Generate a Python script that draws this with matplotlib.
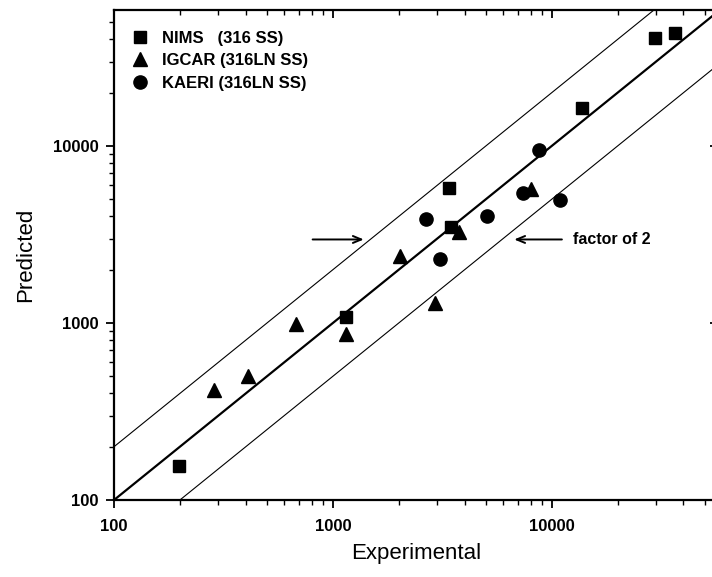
import numpy as np
import matplotlib
matplotlib.use("Agg")
import matplotlib.pyplot as plt

plt.rcParams['font.family'] = ['Liberation Sans', 'DejaVu Sans']

# Data (Experimental, Predicted)
nims_exp = [198, 1146, 3398, 3484, 13810, 29530, 36450]
nims_pred = [156, 1081, 5810, 3473, 16330, 40580, 43310]

igcar_exp = [287, 410, 678, 1143, 2922, 2023, 3773, 8075]
igcar_pred = [418, 504, 984, 866, 1302, 2391, 3280, 5690]

kaeri_exp = [2660, 5067, 3103, 7393, 10880, 8727]
kaeri_pred = [3852, 4023, 2299, 5405, 4954, 9487]

labels = ["NIMS   (316 SS)", "IGCAR (316LN SS)", "KAERI (316LN SS)"]
factor = 2
xlim = (100, 57500)
ylim = (100, 58600)
major_ticks = [100, 1000, 10000]

fig = plt.figure(figsize=(7.12, 5.77), dpi=100)
ax = fig.add_axes([0.1601, 0.1334, 0.8483, 0.8492])

xs = np.array(xlim)
ax.plot(xs, xs, color='black', lw=1.6, zorder=2)
ax.plot(xs, xs * factor, color='black', lw=0.8, zorder=2)
ax.plot(xs, xs / factor, color='black', lw=0.8, zorder=2)

ax.plot(nims_exp, nims_pred, 's', color='black', ms=8.5, ls='none', label=labels[0], zorder=3)
ax.plot(igcar_exp, igcar_pred, '^', color='black', ms=10, ls='none', label=labels[1], zorder=3)
ax.plot(kaeri_exp, kaeri_pred, 'o', color='black', ms=9.5, ls='none', label=labels[2], zorder=3)

ax.set_xscale('log')
ax.set_yscale('log')
ax.set_xlim(*xlim)
ax.set_ylim(*ylim)

ax.set_xticks(major_ticks)
ax.set_xticklabels([str(t) for t in major_ticks])
ax.set_yticks(major_ticks)
ax.set_yticklabels([str(t) for t in major_ticks])
for lab in ax.get_xticklabels() + ax.get_yticklabels():
    lab.set_fontweight('bold')
    lab.set_fontsize(12)

ax.tick_params(which='major', direction='out', length=6, width=1.3)
ax.tick_params(which='minor', direction='out', length=3.5, width=1.0)
ax.tick_params(axis='x', which='major', pad=8)
ax.tick_params(axis='y', which='major', pad=5)
ax.tick_params(which='both', top=True, right=True)
ax.tick_params(axis='x', which='both', labeltop=False)
ax.tick_params(axis='y', which='both', labelright=False)
# top/right ticks inward
for t in ax.xaxis.get_major_ticks() + ax.xaxis.get_minor_ticks():
    t.tick2line.set_marker(3)  # TICKDOWN
for t in ax.yaxis.get_major_ticks() + ax.yaxis.get_minor_ticks():
    t.tick2line.set_marker(0)  # TICKLEFT
ax.xaxis.set_minor_formatter(matplotlib.ticker.NullFormatter())
ax.yaxis.set_minor_formatter(matplotlib.ticker.NullFormatter())

for sp in ax.spines.values():
    sp.set_linewidth(1.6)

ax.set_xlabel("Experimental", fontsize=16, labelpad=6)
ax.set_ylabel("Predicted", fontsize=16, labelpad=12)

leg = ax.legend(loc='upper left', bbox_to_anchor=(0.012, 0.978), frameon=False,
                handlelength=1.0, handletextpad=0.85, labelspacing=0.45,
                prop={'weight': 'bold', 'size': 12}, borderaxespad=0.2)

# arrows and annotation
ax.annotate("", xy=(1425, 2964), xytext=(785, 2964),
            arrowprops=dict(arrowstyle='->,head_length=0.6,head_width=0.25', color='black', lw=1.4))
ax.annotate("", xy=(6546, 2964), xytext=(11460, 2964),
            arrowprops=dict(arrowstyle='->,head_length=0.6,head_width=0.25', color='black', lw=1.4))
ax.text(12470, 2964, "factor of 2", fontsize=11.5, fontweight='bold', va='center', ha='left')

fig.savefig("out.png", dpi=100)
